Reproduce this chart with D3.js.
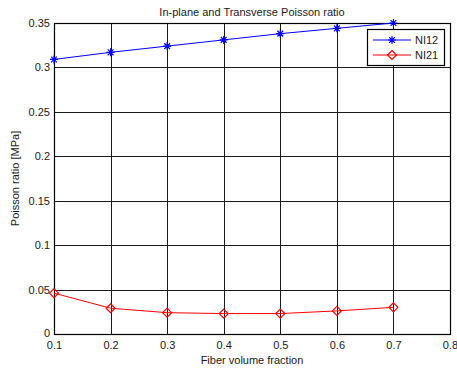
<!DOCTYPE html>
<html>
<head>
<meta charset="utf-8">
<script src="https://cdn.jsdelivr.net/npm/d3@7"></script>
<style>
  html, body { margin: 0; padding: 0; background: #fff; }
  svg { display: block; font-family: "Liberation Sans", Arial, sans-serif; }
</style>
</head>
<body>
<svg id="chart" width="457" height="372"></svg>
<script>
// Fiber volume fraction vs Poisson ratios
const fiberFraction = [0.1, 0.2, 0.3, 0.4, 0.5, 0.6, 0.7];
const ni12 = [0.309, 0.317, 0.324, 0.331, 0.338, 0.344, 0.350];
const ni21 = [0.046, 0.029, 0.024, 0.023, 0.023, 0.026, 0.030];
const xTicks = [0.1, 0.2, 0.3, 0.4, 0.5, 0.6, 0.7, 0.8];
const yTicks = [0, 0.05, 0.1, 0.15, 0.2, 0.25, 0.3, 0.35];
const seriesNames = ["NI12", "NI21"];

const svg = d3.select("#chart");
const margin = { left: 54, right: 7, top: 23, bottom: 38 };
const W = 457, H = 372;
const plotW = W - margin.left - margin.right;
const plotH = H - margin.top - margin.bottom;

const x = d3.scaleLinear().domain([0.1, 0.8]).range([margin.left, margin.left + plotW]);
const y = d3.scaleLinear().domain([0, 0.35]).range([margin.top + plotH, margin.top]);

// grid
const grid = svg.append("g").attr("stroke", "#1a1a1a").attr("stroke-width", 1);
xTicks.forEach(t => {
  grid.append("line").attr("x1", Math.round(x(t)) + 0.5).attr("x2", Math.round(x(t)) + 0.5)
    .attr("y1", margin.top).attr("y2", margin.top + plotH);
});
yTicks.forEach(t => {
  grid.append("line").attr("y1", Math.round(y(t)) + 0.5).attr("y2", Math.round(y(t)) + 0.5)
    .attr("x1", margin.left).attr("x2", margin.left + plotW);
});

// axes
const fmt = d => d3.format("")(+d.toFixed(2));
const xAxis = d3.axisBottom(x).tickValues(xTicks).tickFormat(fmt).tickSize(0).tickPadding(7);
const yAxis = d3.axisLeft(y).tickValues(yTicks).tickFormat(fmt).tickSize(0).tickPadding(4);
svg.append("g").attr("transform", `translate(0,${margin.top + plotH})`).call(xAxis)
  .call(g => g.select(".domain").remove())
  .selectAll("text").attr("font-size", 11).attr("fill", "#1a1a1a").attr("font-family", "Liberation Sans, Arial, sans-serif");
svg.append("g").attr("transform", `translate(${margin.left},0)`).call(yAxis)
  .call(g => g.select(".domain").remove())
  .selectAll("text").attr("font-size", 11).attr("fill", "#1a1a1a").attr("font-family", "Liberation Sans, Arial, sans-serif")
  .attr("dy", d => d === 0 ? "0.2em" : "0.32em");

// frame
svg.append("rect").attr("x", margin.left + 0.5).attr("y", margin.top + 0.5)
  .attr("width", plotW).attr("height", plotH)
  .attr("fill", "none").attr("stroke", "#000").attr("stroke-width", 1.2);

// lines
const line = d3.line().x((d, i) => x(fiberFraction[i])).y(d => y(d));

function asterisk(g, cx, cy, r, color) {
  const p = d3.path();
  p.moveTo(cx - r, cy); p.lineTo(cx + r, cy);
  p.moveTo(cx, cy - r); p.lineTo(cx, cy + r);
  const q = r * 0.72;
  p.moveTo(cx - q, cy - q); p.lineTo(cx + q, cy + q);
  p.moveTo(cx - q, cy + q); p.lineTo(cx + q, cy - q);
  g.append("path").attr("d", p.toString()).attr("stroke", color).attr("stroke-width", 1.2).attr("fill", "none");
}
function diamond(g, cx, cy, r, color) {
  g.append("path").attr("d", `M${cx},${cy - r}L${cx + r},${cy}L${cx},${cy + r}L${cx - r},${cy}Z`)
    .attr("stroke", color).attr("stroke-width", 1.2).attr("fill", "none");
}

const s1 = svg.append("g");
s1.append("path").datum(ni12).attr("d", line).attr("fill", "none").attr("stroke", "#0000ff").attr("stroke-width", 1);
ni12.forEach((v, i) => asterisk(s1, x(fiberFraction[i]), y(v), 4, "#0000ff"));

const s2 = svg.append("g");
s2.append("path").datum(ni21).attr("d", line).attr("fill", "none").attr("stroke", "#ff0000").attr("stroke-width", 1);
ni21.forEach((v, i) => diamond(s2, x(fiberFraction[i]), y(v), 4.5, "#ff0000"));

// title and labels
svg.append("text").attr("x", margin.left + plotW / 2).attr("y", 16).attr("text-anchor", "middle")
  .attr("font-size", 11).attr("fill", "#1a1a1a").text("In-plane and Transverse Poisson ratio");
svg.append("text").attr("x", margin.left + plotW / 2).attr("y", 364).attr("text-anchor", "middle")
  .attr("font-size", 11).attr("fill", "#1a1a1a").text("Fiber volume fraction");
svg.append("text").attr("transform", `translate(19,${margin.top + plotH / 2}) rotate(-90)`)
  .attr("text-anchor", "middle").attr("font-size", 11).attr("fill", "#1a1a1a").text("Poisson ratio [MPa]");

// legend
const lg = svg.append("g");
lg.append("rect").attr("x", 367.5).attr("y", 29.5).attr("width", 77).attr("height", 36)
  .attr("fill", "#fff").attr("stroke", "#000").attr("stroke-width", 1.2);
const legendColors = ["#0000ff", "#ff0000"];
seriesNames.forEach((name, i) => {
  const ly = 40 + i * 15;
  lg.append("line").attr("x1", 373).attr("x2", 411).attr("y1", ly).attr("y2", ly)
    .attr("stroke", legendColors[i]).attr("stroke-width", 1);
  if (i === 0) asterisk(lg, 392, ly, 4, legendColors[i]);
  else diamond(lg, 392, ly, 4.5, legendColors[i]);
  lg.append("text").attr("x", 415).attr("y", ly + 4).attr("font-size", 11).attr("fill", "#1a1a1a").text(name);
});
</script>
</body>
</html>
